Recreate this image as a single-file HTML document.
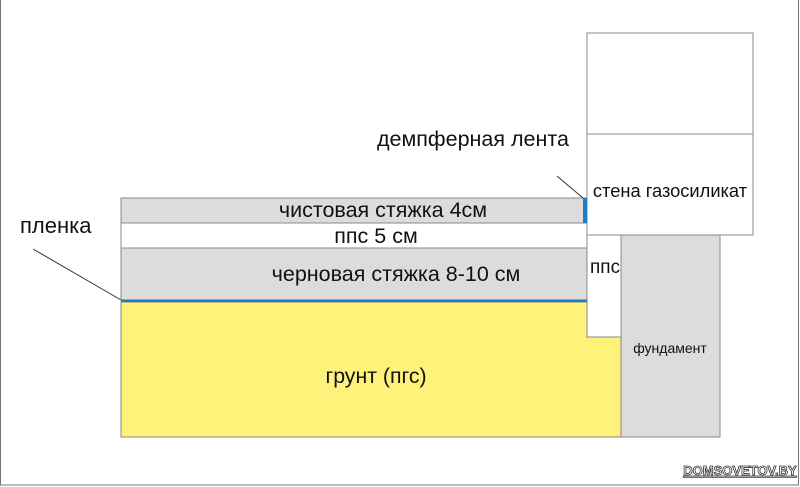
<!DOCTYPE html>
<html><head><meta charset="utf-8"><style>
html,body{margin:0;padding:0;background:#fff;}
svg{display:block;}
text{font-family:"Liberation Sans",sans-serif;fill:#111;}
</style></head><body>
<svg width="800" height="487" viewBox="0 0 800 487" xmlns="http://www.w3.org/2000/svg">
<rect x="0.5" y="-1" width="798" height="486" fill="#fff" stroke="#777" stroke-width="1"/>
<polygon points="121,302 587,302 587,337 621,337 621,437 121,437" fill="#fef27a" stroke="#888" stroke-width="1"/>
<rect x="621" y="235" width="99" height="202" fill="#dcdcdc" stroke="#888" stroke-width="1"/>
<rect x="587" y="235" width="34" height="102" fill="#fff" stroke="#888" stroke-width="1"/>
<rect x="121" y="198" width="465" height="25" fill="#dcdcdc" stroke="#888" stroke-width="1"/>
<rect x="121" y="223" width="466" height="25" fill="#fff" stroke="#888" stroke-width="1"/>
<rect x="121" y="248" width="466" height="52" fill="#dcdcdc" stroke="#888" stroke-width="1"/>
<rect x="121" y="299.5" width="466" height="2.5" fill="#1a7fc4"/>
<rect x="587" y="33" width="166" height="202" fill="#fff" stroke="#888" stroke-width="1"/>
<line x1="587" y1="134" x2="753" y2="134" stroke="#888" stroke-width="1"/>
<rect x="583" y="198" width="4" height="25" fill="#1a7fc4"/>
<line x1="557" y1="176" x2="583" y2="198" stroke="#333" stroke-width="1"/>
<line x1="33" y1="249" x2="121" y2="300" stroke="#333" stroke-width="1"/>
<text x="377" y="146" font-size="21.5">демпферная лента</text>
<text x="20" y="233" font-size="22">пленка</text>
<text x="383" y="217" font-size="21.5" text-anchor="middle">чистовая стяжка 4см</text>
<text x="376" y="243" font-size="21.5" text-anchor="middle">ппс 5 см</text>
<text x="396" y="281" font-size="21.5" text-anchor="middle">черновая стяжка 8-10 см</text>
<text x="376" y="383" font-size="21.3" text-anchor="middle">грунт (пгс)</text>
<text x="670" y="197" font-size="18.3" text-anchor="middle">стена газосиликат</text>
<text x="590" y="273" font-size="19">ппс</text>
<text x="670" y="353" font-size="14" text-anchor="middle">фундамент</text>
<text x="740" y="475" font-size="13" font-weight="bold" text-anchor="middle" style="fill:#fff;stroke:#333;stroke-width:0.8;text-decoration:underline">DOMSOVETOV.BY</text>
</svg>
</body></html>
